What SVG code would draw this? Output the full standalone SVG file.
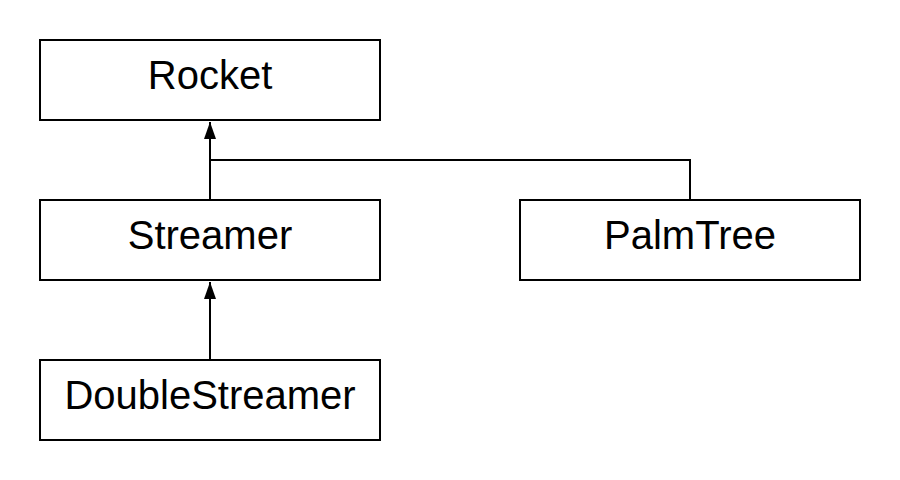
<svg xmlns="http://www.w3.org/2000/svg" width="900" height="480" viewBox="0 0 900 480">
<style>
.box{fill:#fff;stroke:#000;stroke-width:2}
.lbl{font-family:"Liberation Sans",Arial,sans-serif;font-size:40px;fill:#000;text-anchor:middle}
.edge{fill:none;stroke:#000;stroke-width:2}
</style>
<defs>
<marker id="arr" viewBox="0 0 17 12" refX="17" refY="6" markerWidth="17" markerHeight="12" markerUnits="userSpaceOnUse" orient="auto">
<path d="M0,0 L17,6 L0,12 Z" fill="#000"/>
</marker>
</defs>
<rect width="900" height="480" fill="#fff"/>
<g id="connectors">
<path class="edge" d="M210,200 L210,122" marker-end="url(#arr)"/>
<path class="edge" d="M690,200 L690,160 L210,160"/>
<path class="edge" d="M210,360 L210,282" marker-end="url(#arr)"/>
</g>
<g id="rocket"><rect class="box" x="40" y="40" width="340" height="80"/><text class="lbl" x="210" y="89">Rocket</text></g>
<g id="streamer"><rect class="box" x="40" y="200" width="340" height="80"/><text class="lbl" x="210" y="249">Streamer</text></g>
<g id="palmtree"><rect class="box" x="520" y="200" width="340" height="80"/><text class="lbl" x="690" y="249">PalmTree</text></g>
<g id="doublestreamer"><rect class="box" x="40" y="360" width="340" height="80"/><text class="lbl" x="210" y="409">DoubleStreamer</text></g>
</svg>
